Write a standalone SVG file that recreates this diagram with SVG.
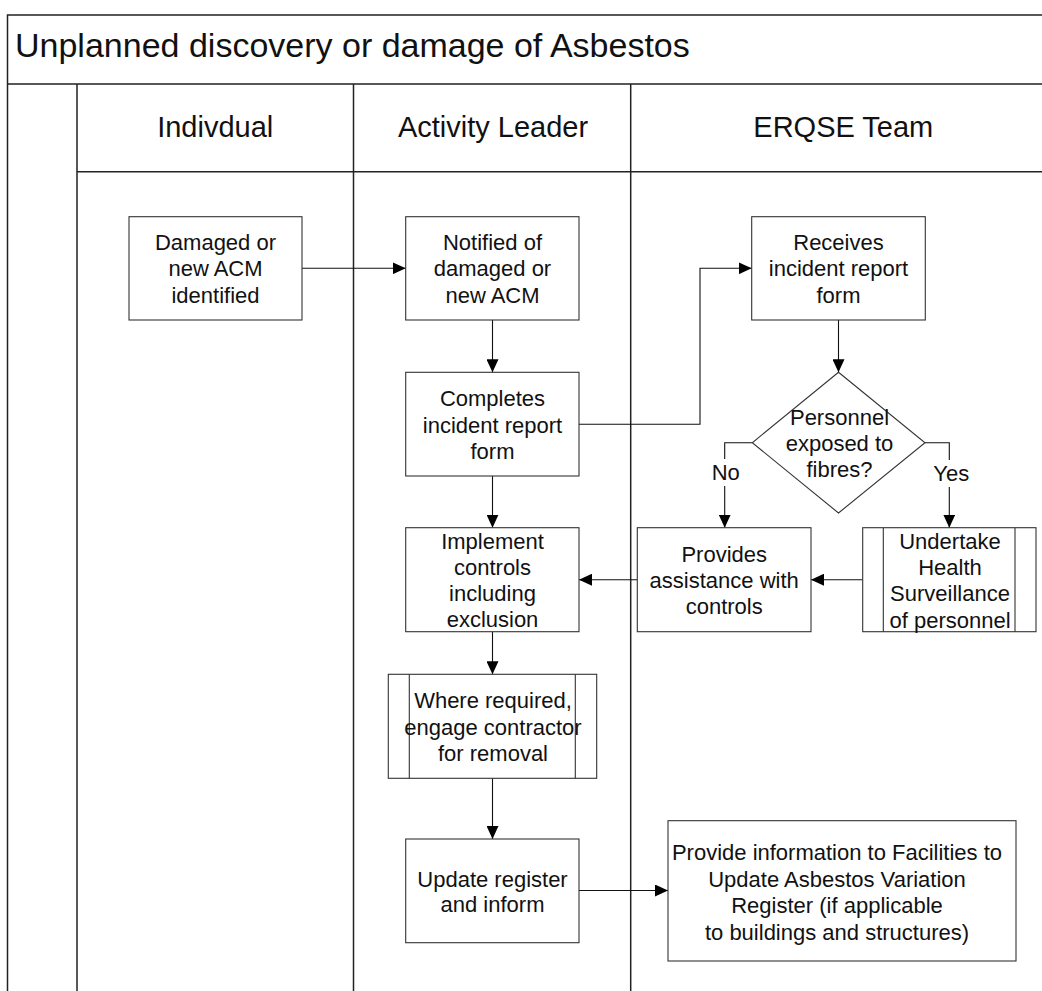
<svg xmlns="http://www.w3.org/2000/svg" width="1042" height="991" viewBox="0 0 1042 991">
<style>
text{font-family:"Liberation Sans",Arial,sans-serif;fill:#111;text-anchor:middle}
.title{font-size:34px;text-anchor:start}
.hdr{font-size:29px}
.t{font-size:22px}
.lane{stroke:#222;stroke-width:1.5;fill:none}
.box{fill:#fff;stroke:#333;stroke-width:1.1}
.conn{fill:none;stroke:#111;stroke-width:1.1;marker-end:url(#ah)}
.lblbg{fill:#fff;stroke:none}
</style>
<defs>
<marker id="ah" markerUnits="userSpaceOnUse" markerWidth="13" markerHeight="12" refX="13" refY="6" orient="auto">
<path d="M0,0 L13,6 L0,12 z" fill="#000"/>
</marker>
</defs>
<rect width="1042" height="991" fill="#fff"/>
<g id="pool">
<path class="lane" d="M7.5,991 V15 H1060 M7.5,84 H1060 M77,171.7 H1060"/>
<path class="lane" d="M77,84 V991 M353.5,84 V991 M630.7,84 V991"/>
<text class="title" x="15" y="57">Unplanned discovery or damage of Asbestos</text>
<text class="hdr" x="215.2" y="136.7">Indivdual</text>
<text class="hdr" x="493" y="136.7">Activity Leader</text>
<text class="hdr" x="843.3" y="136.7">ERQSE Team</text>
</g>
<g id="connectors">
<path class="conn" d="M302,268.3 H405.7"/>
<path class="conn" d="M492.5,320 V372.3"/>
<path class="conn" d="M579,424.2 H700 V268.3 H751.7"/>
<path class="conn" d="M838.5,320 V372.3"/>
<path class="conn" d="M752.3,442.7 H724.7 V527.7"/>
<path class="conn" d="M925,442.7 H949.3 V527.7"/>
<path class="conn" d="M862.7,579.7 H811"/>
<path class="conn" d="M637.3,579.7 H579"/>
<path class="conn" d="M492.5,476 V527.7"/>
<path class="conn" d="M492.5,631.7 V674.3"/>
<path class="conn" d="M492.5,778.3 V839"/>
<path class="conn" d="M579,890.5 H668"/>
<rect class="lblbg" x="711" y="459" width="30" height="27"/>
<text class="t" x="725.7" y="479.7">No</text>
<rect class="lblbg" x="932" y="460" width="39" height="27"/>
<text class="t" x="951.3" y="481.3">Yes</text>
</g>
<g id="n-damaged">
<rect class="box" x="129" y="216.7" width="173" height="103.3"/>
<text class="t" x="215.5"><tspan x="215.5" y="250">Damaged or</tspan><tspan x="215.5" y="276.3">new ACM</tspan><tspan x="215.5" y="302.6">identified</tspan></text>
</g>
<g id="n-notified">
<rect class="box" x="405.7" y="216.7" width="173.3" height="103.3"/>
<text class="t" x="492.5"><tspan x="492.5" y="250">Notified of</tspan><tspan x="492.5" y="276.3">damaged or</tspan><tspan x="492.5" y="302.6">new ACM</tspan></text>
</g>
<g id="n-completes">
<rect class="box" x="405.7" y="372.3" width="173.3" height="103.7"/>
<text class="t" x="492.5"><tspan x="492.5" y="406.2">Completes</tspan><tspan x="492.5" y="432.5">incident report</tspan><tspan x="492.5" y="458.6">form</tspan></text>
</g>
<g id="n-receives">
<rect class="box" x="751.7" y="216.7" width="173.6" height="103.3"/>
<text class="t" x="838.5"><tspan x="838.5" y="250">Receives</tspan><tspan x="838.5" y="276.3">incident report</tspan><tspan x="838.5" y="302.6">form</tspan></text>
</g>
<g id="n-decision">
<path class="box" d="M838.5,372.3 L925,442.7 L838.5,513 L752.3,442.7 Z"/>
<text class="t" x="839.5"><tspan x="839.5" y="424.7">Personnel</tspan><tspan x="839.5" y="450.9">exposed to</tspan><tspan x="839.5" y="476.5">fibres?</tspan></text>
</g>
<g id="n-provides">
<rect class="box" x="637.3" y="527.7" width="173.7" height="104"/>
<text class="t" x="724.2"><tspan x="724.2" y="561.5">Provides</tspan><tspan x="724.2" y="588">assistance with</tspan><tspan x="724.2" y="614.2">controls</tspan></text>
</g>
<g id="n-undertake">
<rect class="box" x="862.7" y="527.7" width="173.3" height="104"/>
<path class="box" d="M883.3,527.7 V631.7 M1015,527.7 V631.7"/>
<text class="t" x="950"><tspan x="950" y="549">Undertake</tspan><tspan x="950" y="575">Health</tspan><tspan x="950" y="601.4">Surveillance</tspan><tspan x="950" y="627.8">of personnel</tspan></text>
</g>
<g id="n-implement">
<rect class="box" x="405.7" y="527.7" width="173.3" height="104"/>
<text class="t" x="492.5"><tspan x="492.5" y="549">Implement</tspan><tspan x="492.5" y="575.3">controls</tspan><tspan x="492.5" y="601.4">including</tspan><tspan x="492.5" y="627.4">exclusion</tspan></text>
</g>
<g id="n-contractor">
<rect class="box" x="388.3" y="674.3" width="208.4" height="104"/>
<path class="box" d="M409.3,674.3 V778.3 M575.3,674.3 V778.3"/>
<text class="t" x="493"><tspan x="493" y="708">Where required,</tspan><tspan x="493" y="735.2">engage contractor</tspan><tspan x="493" y="761.3">for removal</tspan></text>
</g>
<g id="n-update">
<rect class="box" x="405.7" y="839" width="173.3" height="103.7"/>
<text class="t" x="492.5"><tspan x="492.5" y="887">Update register</tspan><tspan x="492.5" y="912.3">and inform</tspan></text>
</g>
<g id="n-provideinfo">
<rect class="box" x="668" y="820.7" width="348" height="140.3"/>
<text class="t" x="837"><tspan x="837" y="860.3">Provide information to Facilities to</tspan><tspan x="837" y="887.3">Update Asbestos Variation</tspan><tspan x="837" y="913">Register (if applicable</tspan><tspan x="837" y="939.7">to buildings and structures)</tspan></text>
</g>
</svg>
